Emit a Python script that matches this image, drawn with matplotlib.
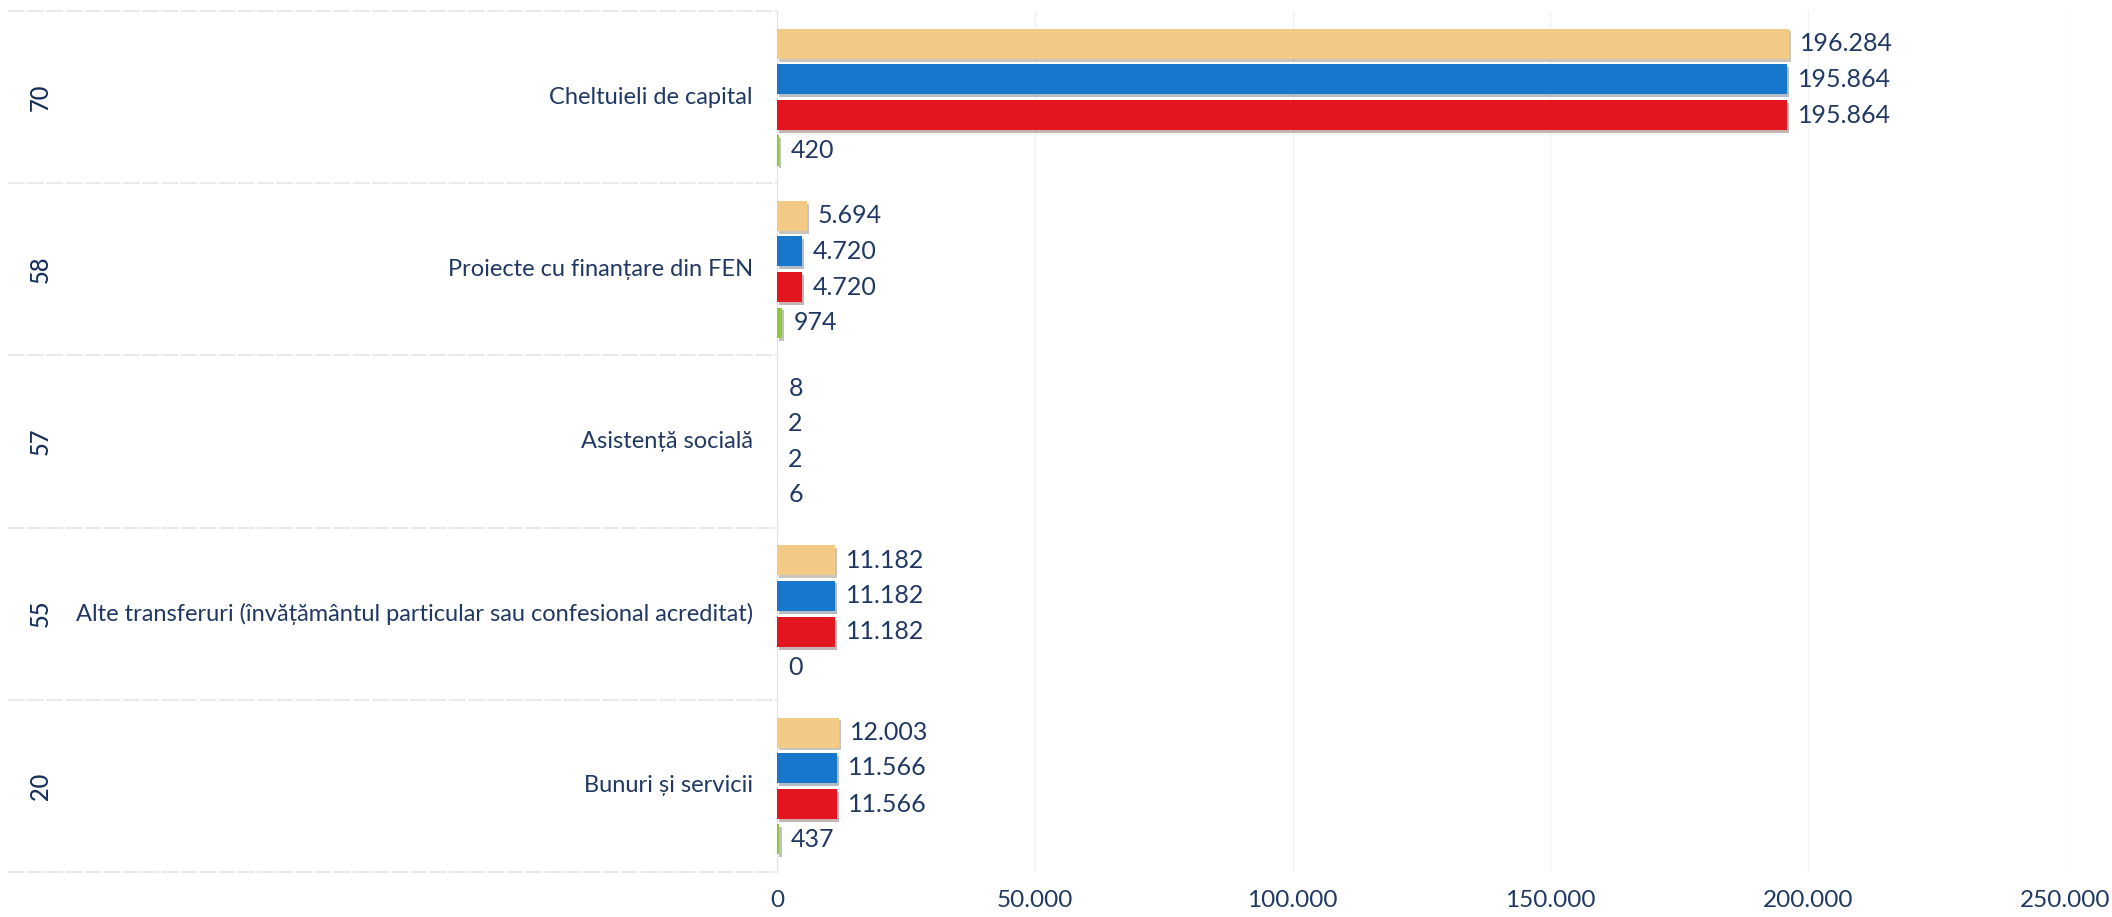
import matplotlib
matplotlib.use("Agg")
import matplotlib.pyplot as plt
import matplotlib.ticker as mticker
import matplotlib.patheffects as pe
import numpy as np

plt.rcParams["font.family"] = ["Lato", "DejaVu Sans"]

codes = ["70", "58", "57", "55", "20"]
names = [
    "Cheltuieli de capital",
    "Proiecte cu finanțare din FEN",
    "Asistență socială",
    "Alte transferuri (învățământul particular sau confesional acreditat)",
    "Bunuri și servicii",
]
s_yellow = [196284, 5694, 8, 11182, 12003]
s_blue = [195864, 4720, 2, 11182, 11566]
s_red = [195864, 4720, 2, 11182, 11566]
s_green = [420, 974, 6, 0, 437]

TXT = "#1F3864"
series = [
    (s_yellow, "#F3C986", -0.31),
    (s_blue, "#1677CC", -0.105),
    (s_red, "#E3161F", 0.105),
    (s_green, "#8DC63F", 0.31),
]

fig = plt.figure(figsize=(21.12, 9.17), dpi=100)
ax = fig.add_axes([0.368, 0.049, 0.610, 0.939])

y = np.arange(len(codes))
shadow = [pe.SimplePatchShadow(offset=(1.5, -2), alpha=0.3), pe.Normal()]


def fmt(v):
    return f"{int(v):,}".replace(",", ".")


for vals, color, off in series:
    bars = ax.barh(y + off, vals, height=0.175, color=color, zorder=3)
    for b in bars:
        b.set_path_effects(shadow)
    for yy, v in zip(y + off, vals):
        ax.annotate(fmt(v), (v, yy), xytext=(8, 0), textcoords="offset points",
                    va="center", ha="left", fontsize=18, color=TXT)

ax.set_xlim(0, 250000)
ax.set_ylim(len(codes) - 0.5, -0.5)
ax.xaxis.set_major_locator(mticker.MultipleLocator(50000))
ax.xaxis.set_major_formatter(mticker.FuncFormatter(lambda v, p: fmt(v)))
ax.tick_params(axis="x", length=0, pad=13, labelsize=17.5, labelcolor=TXT)
ax.set_yticks([])
for s in ["top", "right", "bottom"]:
    ax.spines[s].set_visible(False)
ax.spines["left"].set_color("#E2E2E2")
ax.grid(axis="x", color="#F2F2F2", linewidth=1, zorder=0)

tr = ax.get_yaxis_transform()
for b in np.arange(-0.5, len(codes), 1.0):
    ax.plot([-0.597, 0], [b, b], transform=tr, clip_on=False,
            color="#E6E6E6", linewidth=1.2, linestyle=(0, (10, 1.5)))
for i, (c, n) in enumerate(zip(codes, names)):
    ax.text(-0.572, i, c, transform=tr, rotation=90, ha="center", va="center",
            fontsize=17, color="#17305A", fontweight="medium")
    ax.text(-0.019, i, n, transform=tr, ha="right", va="center",
            fontsize=17, color=TXT)

fig.savefig("out.png", dpi=100, facecolor="white")
